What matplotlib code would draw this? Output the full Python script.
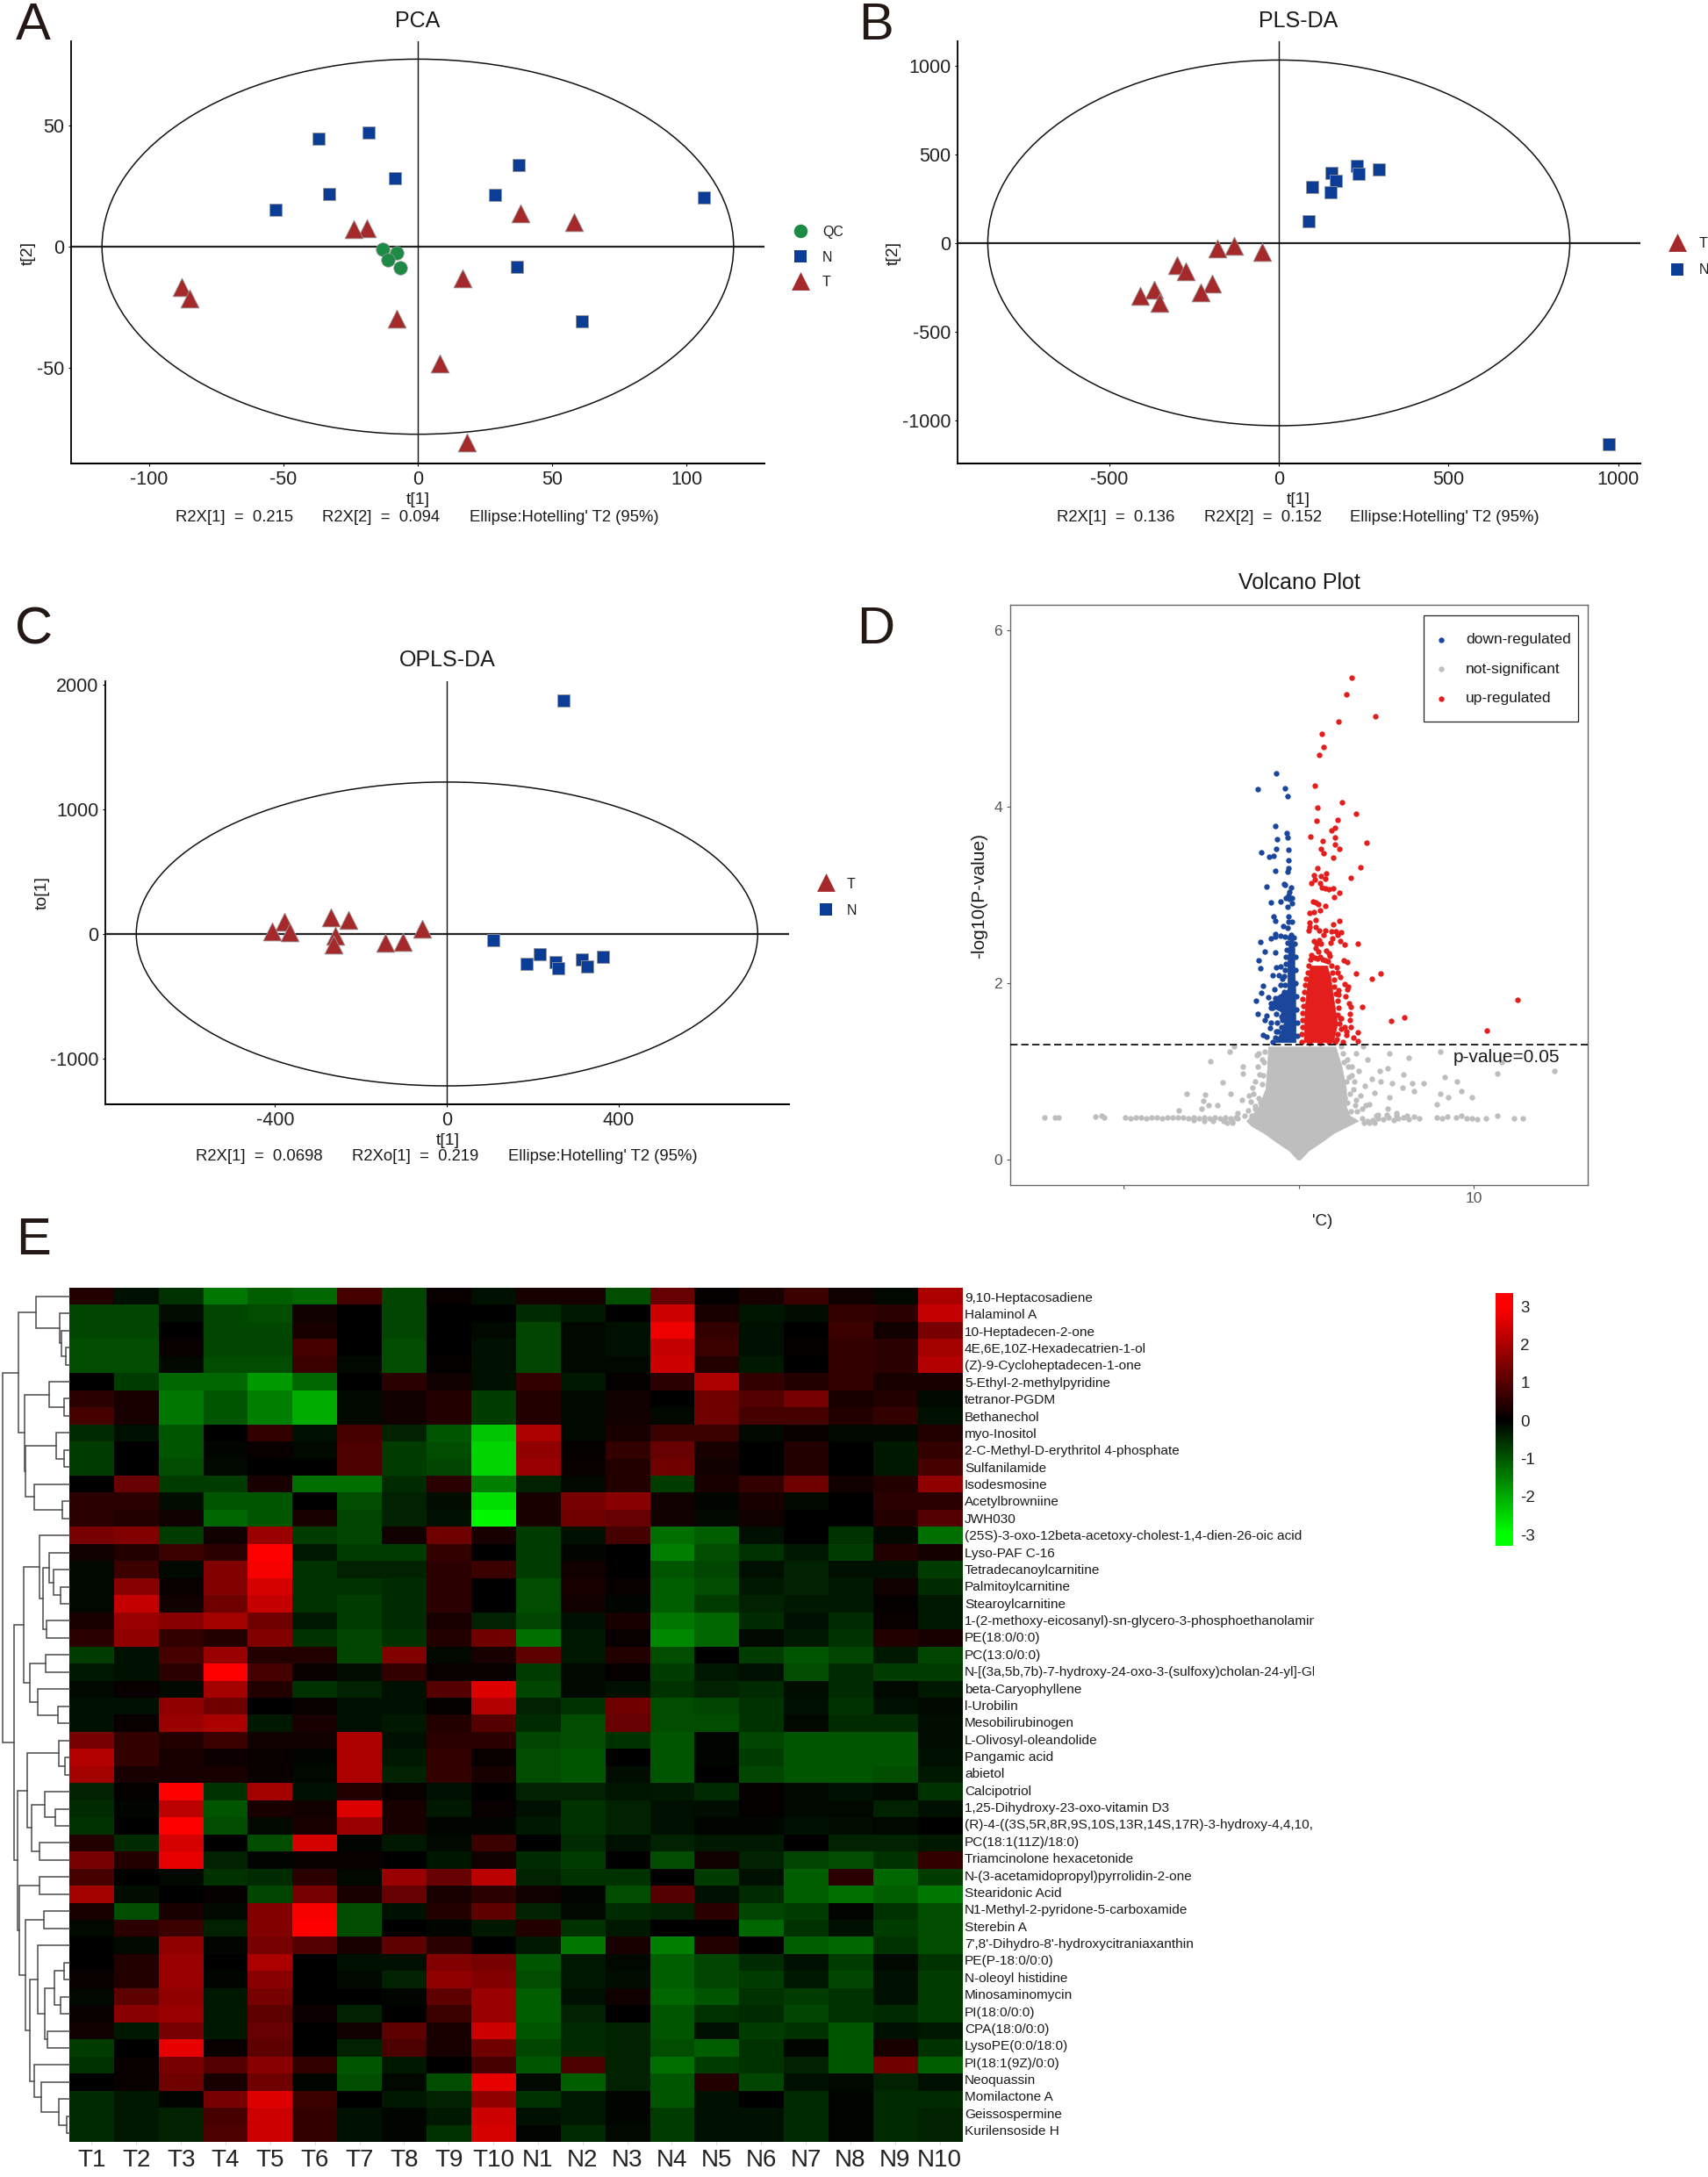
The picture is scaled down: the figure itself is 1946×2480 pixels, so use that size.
import numpy as np
import matplotlib
matplotlib.use("Agg")
import matplotlib.pyplot as plt
from matplotlib.colors import LinearSegmentedColormap, Normalize
from matplotlib.patches import Ellipse, Rectangle
from matplotlib.transforms import Bbox

plt.rcParams["axes.unicode_minus"] = False

W, H = 1946, 2480
NARROW = ["Liberation Sans Narrow", "Liberation Sans"]
SANS = ["Liberation Sans"]

# PCA
pca_n_x = [-36.8, -18.4, 37.6, -8.6, -33, 28.8, 106.6, -52.8, 37, 61]
pca_n_y = [44.7, 47.3, 33.8, 28.3, 21.7, 21.3, 20.3, 15.3, -8.5, -31]
pca_t_x = [38.2, 58.2, -18.8, -23.8, 16.6, -87.8, -84.8, -7.8, 8.2, 18.2]
pca_t_y = [13.7, 10, 7.8, 7.2, -13, -16.7, -21.4, -29.6, -48.3, -81]
pca_qc_x = [-13.2, -8, -11.2, -6.6]
pca_qc_y = [-1, -2.7, -5.3, -8.8]

# PLS-DA
pls_n_x = [229, 295, 156, 234, 169, 97, 153, 89, 973]
pls_n_y = [436, 414, 396, 390, 352, 316, 285, 123, -1137]
pls_t_x = [-132, -180, -49, -299, -274, -196, -231, -366, -408, -352]
pls_t_y = [-14, -33, -51, -123, -160, -227, -277, -266, -299, -338]

# OPLS-DA
opls_n_x = [271, 108, 216, 186, 253, 258, 313, 326, 364]
opls_n_y = [1875, -53, -166, -240, -223, -276, -208, -261, -184]
opls_t_x = [-379, -406, -366, -271, -229, -57, -259, -263, -143, -103]
opls_t_y = [95, 20, 12, 136, 110, 42, -15, -83, -74, -62]

# volcano, single points
up_x = [3.04, 2.74, 4.37, 2.28, 1.30, 1.41, 1.18, 0.92, 2.46, 1.07, 3.27, 2.23, 1.02, 2.05, 1.87, 0.66, 2.07, 1.38,
        3.89, 2.07, 2.33, 1.25, 1.41, 1.97, 3.53, 2.97, 1.07, 0.84, 1.27, 1.55, 1.52, 0.92, 1.2, 0.69, 1.3, 1.52,
        1.72, 1.97, 2.31, 2.0, 0.82, 0.97, 1.12, 1.5, 1.24, 0.62, 0.85, 0.94, 2.31, 1.97, 0.62, 0.6, 0.95, 0.55,
        1.19, 1.52, 1.85, 2.14, 2.42, 1.44, 2.22, 1.94, 1.82, 2.36, 2.61, 3.36, 0.85, 1.19, 1.02, 1.27, 0.94, 1.14,
        1.57, 1.72, 1.77, 0.69, 2.56, 2.79, 2.19, 4.65, 4.19, 3.29, 2.24, 2.36, 1.65, 2.62, 2.82, 2.77, 2.29, 2.29,
        2.69, 2.87, 2.96, 3.64, 2.94, 2.91, 2.36, 2.64, 2.96, 2.74, 3.38, 2.74, 3.12, 3.39, 6.01, 5.29, 12.48, 10.72,
        0.15, 0.18, 0.2, 0.22, 0.2, 0.24, 0.22, 0.3, 0.35, 0.42, 0.5, 0.55, 0.68, 0.75, 0.9, 1.05, 1.2, 1.35, 1.5,
        1.65, 1.85, 1.9, 2.0, 2.03, 2.1, 2.2, 2.25, 2.22, 2.42, 2.3, 2.4, 2.2, 2.15, 2.5, 2.05, 1.7, 1.2, 0.6]
up_y = [5.46, 5.27, 5.03, 4.97, 4.83, 4.68, 4.59, 4.24, 4.05, 3.99, 3.92, 3.85, 3.84, 3.76, 3.73, 3.66, 3.65, 3.61,
        3.59, 3.57, 3.52, 3.52, 3.47, 3.42, 3.31, 3.19, 3.30, 3.22, 3.21, 3.24, 3.18, 3.17, 3.13, 3.13, 3.08, 3.07,
        3.06, 3.07, 3.02, 2.98, 2.93, 2.92, 2.9, 2.88, 2.83, 2.8, 2.81, 2.72, 2.71, 2.67, 2.69, 2.64, 2.64, 2.6,
        2.6, 2.6, 2.59, 2.59, 2.58, 2.55, 2.55, 2.51, 2.46, 2.48, 2.44, 2.45, 2.48, 2.49, 2.45, 2.45, 2.4, 2.36,
        2.37, 2.34, 2.31, 2.32, 2.26, 2.24, 2.18, 2.11, 2.05, 2.11, 2.12, 2.07, 2.08, 1.99, 1.96, 1.93, 1.92, 1.87,
        1.85, 1.77, 1.73, 1.73, 1.65, 1.58, 1.6, 1.5, 1.5, 1.45, 1.44, 1.41, 1.38, 1.34, 1.61, 1.57, 1.81, 1.46,
        1.33, 1.42, 1.5, 1.58, 1.66, 1.74, 1.82, 1.9, 1.98, 2.05, 2.12, 2.2, 2.27, 2.3, 2.29, 2.28, 2.3, 2.27, 2.26,
        2.25, 2.2, 2.12, 2.04, 1.96, 1.88, 1.8, 1.72, 1.64, 1.6, 1.54, 1.48, 1.42, 1.36, 1.33, 1.33, 1.33, 1.32, 1.32]
down_x = [-1.3, -2.35, -0.77, -0.64, -1.36, -0.69, -0.64, -1.25, -1.28, -0.61, -2.15, -1.43, -1.71, -0.59, -0.59,
          -0.66, -1.33, -1.85, -0.85, -0.79, -0.45, -0.52, -0.57, -0.74, -0.4, -1.02, -1.57, -0.52, -0.37, -0.63,
          -1.45, -1.35, -0.57, -0.37, -0.57, -0.87, -0.65, -1.35, -1.57, -1.32, -1.02, -0.79, -2.19, -1.92, -1.34,
          -2.29, -2.19, -1.27, -1.02, -1.49, -1.12, -0.95, -2.02, -1.37, -1.05, -2.14, -2.44, -1.74, -2.32, -1.82,
          -1.95, -1.6, -1.24, -1.65, -2.04, -1.82, -1.29, -1.57, -1.57, -1.15, -1.32, -1.29, -0.99,
          -0.1, -0.1, -0.13, -0.15, -0.18, -0.2, -0.2, -0.25, -0.3,
          -1.5, -1.35, -1.2, -1.0, -0.95, -0.9, -1.5, -1.4, -1.2, -0.85, -0.8, -0.85, -0.78, -0.75, -0.72, -0.7,
          -0.62, -0.55, -0.45]
down_y = [4.38, 4.2, 4.21, 4.12, 3.78, 3.7, 3.65, 3.63, 3.52, 3.51, 3.48, 3.44, 3.43, 3.39, 3.3,
          3.26, 3.27, 3.09, 3.12, 3.11, 3.08, 3.03, 3.0, 2.97, 2.97, 2.93, 2.92, 2.96, 2.91, 2.87,
          2.76, 2.71, 2.76, 2.7, 2.7, 2.65, 2.63, 2.56, 2.51, 2.53, 2.54, 2.53, 2.47, 2.36, 2.35,
          2.26, 2.17, 2.18, 2.19, 2.09, 2.09, 2.05, 1.97, 1.93, 1.98, 1.89, 1.8, 1.84, 1.65, 1.63,
          1.58, 1.55, 1.55, 1.49, 1.41, 1.39, 1.45, 1.77, 1.72, 1.8, 1.83, 1.65, 1.62,
          1.4, 1.55, 1.7, 1.85, 2.0, 2.15, 2.3, 2.45, 2.52,
          1.33, 1.38, 1.45, 1.5, 1.58, 1.66, 1.72, 1.78, 1.82, 1.9, 1.98, 2.08, 2.15, 2.22, 2.3, 2.38,
          2.46, 2.52, 2.55]
ns_x = [-5.06, -3.94, -3.68, -3.2, -3.2, -4.37, -3.89, -6.42, -5.37, -5.47, -6.83, -5.17, -5.55, -4.65, -3.5, -3.22,
        -2.84, -2.66, -2.48, -2.35, -2.3, -2.4, -2.74, -2.48, -2.23, -2.1,
        5.19, 6.29, 8.06, 11.33, 14.6, 11.6, 8.34, 9.03, 9.28, 9.87, 8.52, 8.08, 7.88, 7.11, 6.47, 6.6, 5.96, 5.91,
        5.06, 4.6, 4.68, 4.17, 5.32, 5.19, 5.06, 4.3, 3.91, 3.27, 3.66, 3.02, 3.4, 3.79, 3.15, 3.53, 2.76, 2.89,
        2.63, 4.04, 4.5, 5.58,
        -14.5, -13.9, -13.7, -11.6, -11.25, -11.1, -9.9, -9.6, -9.3, -9.0, -8.7, -8.4, -8.1, -7.8, -7.5, -7.2,
        -6.9, -6.6, -6.3, -6.0, -5.7, -5.4, -5.1, -4.8, -4.5, -4.2, -3.9, -3.6, -6.0, -5.4, -4.9, -4.3, -3.8,
        3.6, 3.9, 4.2, 4.5, 4.8, 5.1, 5.4, 5.7, 6.0, 6.3, 6.6, 6.9, 7.9, 8.2, 8.5, 9.0, 9.3, 9.6, 9.9, 10.2, 10.7,
        11.35, 12.28, 12.8, 4.4, 5.0, 5.6, 6.2,
        -2.6, -2.3, -2.5, -2.1, -2.2, -2.05, -2.0, -1.95, -2.9, -3.1, -2.7, -3.5, -3.8, -4.1,
        3.2, 2.9, 3.0, 2.7, 2.8, 2.5, 2.6, 2.4, 3.3, 3.6, 3.8, 3.1, 2.75, 2.55, 2.95, 3.25, 3.7, 4.0, 4.3]
ns_y = [1.11, 1.22, 1.28, 1.05, 0.97, 0.87, 0.75, 0.75, 0.74, 0.67, 0.56, 0.62, 0.58, 0.62, 0.53, 0.68,
        0.73, 0.81, 0.88, 1.05, 1.2, 1.18, 0.66, 0.61, 0.96, 1.13,
        1.2, 1.15, 1.22, 0.97, 1.0, 1.1, 0.93, 0.88, 0.78, 0.71, 0.71, 0.75, 0.63, 0.86, 0.86, 0.78, 0.96, 0.81,
        1.03, 1.0, 0.88, 0.91, 0.86, 0.71, 0.58, 0.76, 1.13, 1.2, 1.28, 1.05, 1.0, 0.83, 0.88, 0.73, 1.13, 0.93,
        0.71, 0.63, 0.51, 0.53,
        0.48, 0.48, 0.48, 0.49, 0.5, 0.48, 0.48, 0.47, 0.48, 0.48, 0.47, 0.48, 0.48, 0.47, 0.48, 0.48,
        0.48, 0.48, 0.47, 0.48, 0.47, 0.48, 0.47, 0.48, 0.47, 0.48, 0.47, 0.48, 0.45, 0.44, 0.44, 0.44, 0.43,
        0.47, 0.44, 0.45, 0.47, 0.46, 0.48, 0.45, 0.47, 0.48, 0.46, 0.49, 0.47, 0.48, 0.47, 0.49, 0.48, 0.5, 0.47, 0.47, 0.46, 0.47,
        0.5, 0.47, 0.47, 0.5, 0.51, 0.5, 0.5,
        0.75, 0.7, 0.58, 0.85, 0.65, 0.95, 1.1, 1.22, 0.56, 0.5, 0.5, 0.47, 0.42, 0.42,
        0.62, 0.75, 0.95, 0.88, 1.05, 1.2, 0.7, 1.28, 0.55, 0.58, 0.62, 0.8, 0.65, 1.1, 0.55, 0.68, 0.42, 0.42, 0.42]

# outline of the parts of the volcano where the dots merge together
ns_core_y = [0.0, 0.1, 0.2, 0.3, 0.38, 0.44, 0.5, 0.6, 0.8, 1.05, 1.28]
ns_core_left = [-0.08, -0.55, -1.3, -2.0, -2.7, -3.0, -2.7, -2.3, -1.9, -1.8, -1.75]
ns_core_right = [0.08, 0.55, 1.3, 2.0, 2.8, 3.4, 2.9, 2.7, 2.7, 2.45, 2.1]
up_core_y = [1.33, 1.54, 1.73, 1.93, 2.07, 2.2]
up_core_left = [0.28, 0.32, 0.35, 0.45, 0.55, 0.65]
up_core_right = [1.95, 2.2, 2.05, 1.9, 1.8, 1.6]
down_core_y = [1.33, 1.42, 1.55, 1.66, 1.72, 1.84, 1.93, 2.2, 2.4, 2.5]
down_core_left = [-1.4, -1.1, -0.85, -0.85, -1.45, -1.35, -0.65, -0.65, -0.6, -0.5]
down_core_right = [-0.18, -0.18, -0.18, -0.2, -0.2, -0.2, -0.2, -0.25, -0.25, -0.33]

# heatmap
samples = ["T1", "T2", "T3", "T4", "T5", "T6", "T7", "T8", "T9", "T10",
           "N1", "N2", "N3", "N4", "N5", "N6", "N7", "N8", "N9", "N10"]
metabolites = ["9,10-Heptacosadiene", "Halaminol A", "10-Heptadecen-2-one", "4E,6E,10Z-Hexadecatrien-1-ol",
               "(Z)-9-Cycloheptadecen-1-one", "5-Ethyl-2-methylpyridine", "tetranor-PGDM", "Bethanechol",
               "myo-Inositol", "2-C-Methyl-D-erythritol 4-phosphate", "Sulfanilamide", "Isodesmosine",
               "Acetylbrowniine", "JWH030", "(25S)-3-oxo-12beta-acetoxy-cholest-1,4-dien-26-oic acid", "Lyso-PAF C-16",
               "Tetradecanoylcarnitine", "Palmitoylcarnitine", "Stearoylcarnitine",
               "1-(2-methoxy-eicosanyl)-sn-glycero-3-phosphoethanolamine", "PE(18:0/0:0)", "PC(13:0/0:0)",
               "N-[(3a,5b,7b)-7-hydroxy-24-oxo-3-(sulfoxy)cholan-24-yl]-Glycine", "beta-Caryophyllene", "l-Urobilin",
               "Mesobilirubinogen", "L-Olivosyl-oleandolide", "Pangamic acid", "abietol", "Calcipotriol",
               "1,25-Dihydroxy-23-oxo-vitamin D3", "(R)-4-((3S,5R,8R,9S,10S,13R,14S,17R)-3-hydroxy-4,4,10,13,14-",
               "PC(18:1(11Z)/18:0)", "Triamcinolone hexacetonide", "N-(3-acetamidopropyl)pyrrolidin-2-one",
               "Stearidonic Acid", "N1-Methyl-2-pyridone-5-carboxamide", "Sterebin A",
               "7',8'-Dihydro-8'-hydroxycitraniaxanthin", "PE(P-18:0/0:0)", "N-oleoyl histidine", "Minosaminomycin",
               "PI(18:0/0:0)", "CPA(18:0/0:0)", "LysoPE(0:0/18:0)", "PI(18:1(9Z)/0:0)", "Neoquassin", "Momilactone A",
               "Geissospermine", "Kurilensoside H"]
heat_rows = [
    [.4, -.2, -.6, -1.4, -1.1, -1.2, .8, -.8, .1, -.2, .3, .3, -.9, 1.2, .05, .3, .7, .2, -.1, 2.0],
    [-.8, -.8, -.15, -.8, -.9, .2, 0, -.8, 0, 0, -.5, -.3, 0, 2.4, .3, -.25, -.15, .6, .5, 2.3],
    [-.8, -.8, 0, -.8, -.8, .3, 0, -.8, 0, -.1, -.8, -.1, -.2, 2.8, .6, -.2, 0, .7, .2, 1.4],
    [-.9, -.9, .1, -.8, -.8, .8, 0, -.9, 0, -.2, -.8, -.1, -.2, 2.3, .7, -.2, .05, .6, .5, 1.9],
    [-.9, -.9, -.1, -.9, -.9, .7, -.1, -.9, .05, -.2, -.8, -.1, -.1, 2.4, .4, -.3, 0, .6, .5, 2.1],
    [0, -.7, -1.2, -1.2, -1.8, -1.2, 0, .5, .2, -.2, .6, -.3, .05, .5, 2.0, .6, .4, .6, .3, .3],
    [.5, .3, -1.4, -1.0, -1.5, -2.0, -.1, .2, .4, -.7, .4, -.1, .2, 0, 1.3, 1.0, 1.4, .3, .4, -.1],
    [.8, .3, -1.4, -1.0, -1.5, -2.0, -.1, .2, .4, -.7, .4, -.1, .2, -.1, 1.3, .8, .8, .4, .6, -.2],
    [-.5, -.2, -1.0, 0, .6, -.2, .8, -.4, -1.0, -2.3, 2.0, -.1, .3, .7, .7, -.1, .1, -.1, -.1, .4],
    [-.7, 0, -1.0, -.05, .1, -.1, .9, -.7, -.9, -2.5, 1.7, .05, .6, 1.2, .3, 0, .4, 0, -.3, .6],
    [-.7, 0, -.9, -.1, 0, 0, .9, -.7, -.8, -2.5, 1.8, .1, .4, 1.3, .2, 0, .4, 0, -.3, .8],
    [0, 1.2, -.7, -.7, .3, -1.3, -1.3, -.5, .5, -1.5, -.4, -.1, .4, -.7, .3, .6, 1.3, .2, .4, 1.7],
    [.5, .5, -.15, -1.0, -1.0, 0, -.9, -.4, -.15, -2.6, .3, 1.4, 1.6, .2, -.05, .3, -.1, 0, .5, .5],
    [.5, .4, .2, -1.2, -1.0, .3, -.8, -.4, -.2, -2.9, .3, 1.3, 1.2, .2, -.1, .2, 0, 0, .4, 1.0],
    [1.4, 1.5, -.7, .2, 1.8, -.7, -.8, .2, 1.3, .3, -.7, -.2, .8, -1.3, -1.1, -.2, 0, -.6, -.1, -1.3],
    [.2, .4, .7, .5, 3, -.3, -.7, -.7, .6, 0, -.7, -.05, 0, -1.5, -.9, -.6, -.3, -.7, .4, .25],
    [-.1, .7, -.1, 1.5, 2.9, -.6, -.4, -.4, .5, .7, -.7, .2, 0, -1.0, -.8, -.2, -.4, -.2, -.2, -.7],
    [-.1, 1.6, .1, 1.5, 2.5, -.6, -.6, -.5, .5, 0, -.9, .3, .1, -1.1, -.9, -.3, -.4, -.3, .2, -.5],
    [-.1, 2.3, .2, 1.3, 2.3, -.6, -.7, -.5, .5, 0, -.9, .2, -.05, -1.1, -.7, -.4, -.3, -.3, .05, -.3],
    [.3, 1.8, 1.6, 1.9, 1.3, -.3, -.7, -.5, .3, -.4, -.8, -.2, .3, -1.4, -1.2, -.5, -.2, -.5, .1, -.3],
    [.5, 1.7, .6, .4, 1.5, -.6, -.8, -.6, .4, 1.3, -1.3, -.3, .1, -1.6, -1.2, -.1, -.3, -.6, .4, .3],
    [-.7, -.2, .8, 1.8, .4, .4, -.8, 1.5, -.1, .3, 1.1, -.3, .4, -.9, 0, -.7, -1.0, -.8, -.3, -.8],
    [-.3, -.2, .5, 3, .8, .1, -.15, .6, .1, .1, -.7, -.1, .05, -.7, -.3, -.2, -.9, -.5, -.7, -.7],
    [-.1, .1, -.1, 1.9, .4, -.6, -.4, -.2, 1.0, 2.6, -.8, -.1, -.2, -.6, -.4, -.5, -.15, -.5, -.1, -.3],
    [-.2, -.2, 1.7, 1.3, 0, .1, -.2, -.2, .05, 2.1, -.4, -.6, 1.3, -.9, -.8, -.6, -.2, -.6, -.2, -.1],
    [-.2, .1, 1.8, 2.0, -.3, .3, -.2, -.3, .4, 1.0, -.5, -.9, 1.2, -.9, -.9, -.6, -.1, -.5, -.5, -.15],
    [1.4, .6, .4, .7, .2, .2, 2.0, -.2, .5, .5, -.8, -.9, -.6, -1.0, -.05, -.8, -1.0, -1.0, -1.0, -.15],
    [2.1, .6, .3, .15, .1, -.05, 2.0, -.3, .6, .1, -.9, -1.0, 0, -1.0, -.05, -.7, -1.0, -1.0, -1.0, -.2],
    [1.9, .3, .3, .3, .1, -.1, 2.0, -.4, .6, .3, -.9, -1.0, -.15, -1.0, 0, -.8, -1.0, -1.0, -.9, -.3],
    [-.4, .05, 3, -.6, 1.9, -.2, .4, .1, -.2, 0, -.4, -.4, -.25, -.3, -.5, .05, -.1, -.2, -.1, -.6],
    [-.5, -.05, 2.2, -1.0, .3, .2, 2.6, .3, -.3, .1, -.2, -.6, -.4, -.2, -.15, .05, -.1, -.1, -.4, -.2],
    [-.6, 0, 3, -.9, -.1, .3, 1.8, .3, -.05, -.05, -.3, -.6, -.4, -.2, -.05, -.05, -.2, -.15, -.1, 0],
    [.4, -.5, 2.5, 0, -.9, 2.5, -.05, -.3, -.1, .7, 0, -.5, -.2, -.4, -.3, -.3, 0, -.4, -.4, -.3],
    [1.4, .4, 2.7, -.4, -.05, .1, .1, 0, -.25, .2, -.5, -.7, 0, -.9, .2, -.4, -.8, -.9, -.6, .6],
    [.8, 0, -.1, -.6, -.5, .5, -.1, 1.8, 1.2, 2.2, -.4, -.6, -.6, 0, -.7, -.2, -1.1, .5, -1.2, -.7],
    [1.9, -.15, 0, .05, -.8, 1.4, .3, 1.2, .3, .5, .2, -.05, -.9, 1.0, -.2, -.5, -1.1, -1.3, -1.1, -1.4],
    [.3, -.9, .3, -.1, 1.5, 2.9, -.9, -.2, .4, 1.1, -.4, -.1, -.5, -.4, .5, -.8, -.7, -.05, -.6, -.9],
    [-.1, .5, .7, -.4, 1.5, 3, -.9, 0, -.05, -.3, .4, -.6, -.3, 0, 0, -1.2, -.6, -.2, -.7, -.9],
    [0, -.1, 1.7, -.05, 1.4, 1.0, .3, 1.1, .5, 0, -.3, -1.4, .3, -1.5, .4, 0, -1.1, -1.2, -.6, -.9],
    [0, .4, 1.8, 0, 2.0, 0, -.2, -.2, 1.5, 1.4, -1.0, -.3, -.1, -1.1, -.8, -.5, -.2, -.7, -.1, -.6],
    [.1, .4, 1.8, -.05, 1.6, 0, -.1, -.4, 1.7, 1.5, -.9, -.3, -.15, -1.1, -.8, -.7, -.3, -.8, -.2, -.7],
    [-.1, 1.1, 1.7, -.3, 1.4, 0, 0, -.05, 1.1, 1.8, -1.1, -.2, .2, -1.2, -1.0, -.6, -.7, -.6, -.2, -.7],
    [.1, 1.6, 1.8, -.3, 1.1, .15, -.4, 0, .7, 1.8, -1.1, -.4, 0, -1.0, -.6, -.5, -.8, -.6, -.5, -.7],
    [.2, -.3, 1.4, -.3, 1.2, 0, .2, 1.1, .3, 2.4, -1.0, -.5, -.4, -1.0, -.2, -.7, -.6, -1.0, -.2, -.3],
    [-.7, 0, 2.7, .1, 1.1, 0, -.4, .9, .3, 1.3, -.8, -.5, -.4, -.9, -1.1, -.6, -.05, -1.0, .3, -.6],
    [-.6, .1, 1.4, 1.0, 1.6, .6, -1.0, -.3, 0, .8, -1.0, .9, -.4, -1.3, -.7, -.6, -.4, -1.0, 1.3, -1.1],
    [0, .1, 1.3, .3, 1.3, -.05, -.9, -.1, -.9, 2.7, -.1, -1.1, -.4, -1.0, .4, -.8, -.2, -.1, -.4, -.2],
    [-.5, -.3, -.05, 1.4, 2.6, .7, 0, -.3, -.4, 1.7, -.6, -.3, -.05, -1.0, -.2, 0, -.5, -.05, -.5, -.5],
    [-.5, -.3, -.4, .8, 2.4, .6, -.2, -.05, -.3, 2.4, -.2, -.3, -.05, -.7, -.2, -.2, -.5, -.05, -.5, -.4],
    [-.5, -.3, -.4, .9, 2.4, .6, -.2, -.05, -.6, 2.5, -.05, -.5, -.1, -.7, -.2, -.2, -.5, -.05, -.5, -.4],
]

# row dendrogram: (height, child, child), a plain int is a row index
top_rows = (118, 0, (37, 1, (30, 2, (15, 3, 4))))
mid_rows = (155, (72, 5, (20, 6, 7)), (154, (48, 8, (20, 9, 10)), (122, 11, (28, 12, 13))))
carn_rows = (105, 14, (93, (73, 15, (58, 16, (32, 17, 18))), (80, 19, 20)))
pc_rows = (138, (85, 21, 22), (110, 23, (43, 24, 25)))
lipo_rows = (146, (38, 26, (18, 27, 28)), (132, (88, 29, (50, 30, 31)), (105, 32, 33)))
low_rows = (175, (105, 34, 35), (153, (90, 36, 37), (138,
            (112, 38, (88, (55, (20, 39, 40), (32, 41, 42)), (78, 43, 44))),
            (122, 45, (100, 46, (40, 47, (12, 48, 49)))))))
row_tree = (230, (176, top_rows, mid_rows), (193, (160, carn_rows, pc_rows), (180, lipo_rows, low_rows)))


def px_axes(fig, left, top, right, bottom):
    return fig.add_axes([left / W, 1 - bottom / H, (right - left) / W, (bottom - top) / H])


def score_plot(fig, rect, xlim, ylim, xticks, yticks, ell_w, ell_h, n_xy, t_xy, qc_xy=None):
    ax = px_axes(fig, *rect)
    ax.set_xlim(*xlim)
    ax.set_ylim(*ylim)
    ax.spines["top"].set_visible(False)
    ax.spines["right"].set_visible(False)
    ax.spines["left"].set_linewidth(1.3)
    ax.spines["bottom"].set_linewidth(1.5)
    ax.set_xticks(xticks)
    ax.set_yticks(yticks)
    ax.tick_params(length=2.5, width=0.8, pad=3, labelsize=15.5, labelcolor="#222222")
    for lab in ax.get_xticklabels() + ax.get_yticklabels():
        lab.set_family(SANS)
    ax.axhline(0, color="#222222", lw=1.6, zorder=1)
    ax.axvline(0, color="#111111", lw=1.0, zorder=1)
    ax.add_patch(Ellipse((0, 0), 2 * ell_w, 2 * ell_h, fill=False, ec="#111111", lw=1.1, zorder=2))
    if qc_xy:
        ax.scatter(*qc_xy, marker="o", s=125, c=GREEN, edgecolors="#999999", linewidths=0.5, zorder=3)
    ax.scatter(*n_xy, marker="s", s=110, c=BLUE, edgecolors="#999999", linewidths=0.6, zorder=3)
    ax.scatter(*t_xy, marker="^", s=225, c=BROWN, edgecolors="#999999", linewidths=0.6, zorder=3)
    return ax


def draw_tree(ax, node):
    # returns (height, y centre) of the node
    if isinstance(node, int):
        return 0, node + 0.5
    h, a, b = node
    ha, ya = draw_tree(ax, a)
    hb, yb = draw_tree(ax, b)
    ax.plot([ha, h, h, hb], [ya, ya, yb, yb], color="#4a4a4a", lw=1.1, solid_joinstyle="miter")
    return h, (ya + yb) / 2


GREEN = "#1d8a45"
BLUE = "#0b3c96"
BROWN = "#a5282a"
VOL_BLUE = "#1a479c"
VOL_RED = "#e31e1c"
VOL_GRAY = "#bebebe"

fig = plt.figure(figsize=(W / 100, H / 100), dpi=100, facecolor="white")

score_plot(fig, (81, 47, 871, 528), (-129, 129), (-89.7, 85), [-100, -50, 0, 50, 100], [-50, 0, 50],
           117.5, 77.6, (pca_n_x, pca_n_y), (pca_t_x, pca_t_y), (pca_qc_x, pca_qc_y))
score_plot(fig, (1091, 47, 1869, 528), (-946, 1065), (-1244, 1137), [-500, 0, 500, 1000],
           [-1000, -500, 0, 500, 1000], 857, 1031, (pls_n_x, pls_n_y), (pls_t_x, pls_t_y))
score_plot(fig, (120, 776, 899, 1258), (-795, 796), (-1368, 2030), [-400, 0, 400], [-1000, 0, 1000, 2000],
           723, 1220, (opls_n_x, opls_n_y), (opls_t_x, opls_t_y))

# volcano
ax_v = px_axes(fig, 1150.5, 689, 1809, 1350)
ax_v.set_xlim(-16.5, 16.5)
ax_v.set_ylim(-0.29, 6.29)
ax_v.fill_betweenx(ns_core_y, ns_core_left, ns_core_right, color=VOL_GRAY, lw=0.5, zorder=1)
ax_v.scatter(ns_x, ns_y, s=21, c=VOL_GRAY, linewidths=0, zorder=1)
ax_v.fill_betweenx(down_core_y, down_core_left, down_core_right, color=VOL_BLUE, lw=0.5, zorder=2)
ax_v.scatter(down_x, down_y, s=21, c=VOL_BLUE, linewidths=0, zorder=2)
ax_v.fill_betweenx(up_core_y, up_core_left, up_core_right, color=VOL_RED, lw=0.5, zorder=2)
ax_v.scatter(up_x, up_y, s=21, c=VOL_RED, linewidths=0, zorder=2)
ax_v.axhline(1.301, color="black", lw=1.2, dashes=(5, 2.5), zorder=3)
ax_v.set_xticks([-10, 0, 10])
ax_v.set_xticklabels(["", "", "10"], family=SANS, fontsize=12.5, color="#555555")
ax_v.set_yticks([0, 2, 4, 6])
ax_v.set_yticklabels(["0", "2", "4", "6"], family=SANS, fontsize=12.5, color="#555555")
ax_v.tick_params(length=3, width=0.8, color="#555555", pad=3)
for sp in ax_v.spines.values():
    sp.set_color("#666666")
    sp.set_linewidth(1.0)

# heatmap
ax_h = px_axes(fig, 79, 1467, 1096, 2440)
cmap = LinearSegmentedColormap.from_list("gbr", ["#00ff00", "#000000", "#ff0000"])
norm = Normalize(-3, 3, clip=True)
ax_h.imshow(np.array(heat_rows), cmap=cmap, norm=norm, aspect="auto", interpolation="nearest")
ax_h.set_xticks(range(len(samples)))
ax_h.set_xticklabels(samples, family=SANS, fontsize=20, color="#222222")
ax_h.tick_params(axis="x", length=2, width=0.6, color="#cccccc", pad=4)
ax_h.set_yticks([])
for sp in ax_h.spines.values():
    sp.set_visible(False)

# dendrogram
ax_d = px_axes(fig, 0, 1467, 80, 2440)
ax_d.set_xlim(240, 0)
ax_d.set_ylim(len(metabolites), 0)
ax_d.axis("off")
draw_tree(ax_d, row_tree)

# colour key
ax_c = px_axes(fig, 1704, 1473, 1724, 1761)
ax_c.imshow(np.linspace(3.35, -3.3, 256)[:, None], cmap=cmap, norm=norm, aspect="auto", extent=(0, 1, -3.3, 3.35))
ax_c.set_xticks([])
ax_c.yaxis.tick_right()
ax_c.set_yticks([-3, -2, -1, 0, 1, 2, 3])
ax_c.set_yticklabels(["-3", "-2", "-1", "0", "1", "2", "3"], family=SANS, fontsize=13.5, color="#222222")
ax_c.tick_params(length=0, pad=6)
for sp in ax_c.spines.values():
    sp.set_visible(False)

# everything placed by pixel goes on one overlay
ov = fig.add_axes([0, 0, 1, 1], zorder=10)
ov.set_xlim(0, W)
ov.set_ylim(H, 0)
ov.axis("off")


def put(x, y, s, size, ha="left", fam=SANS, rot=0, color="#1a1a1a"):
    return ov.text(x, y, s, fontsize=size, ha=ha, va="center", family=fam, rotation=rot, color=color)


for letter, x, y in [("A", 38, 45), ("B", 998, 45), ("C", 39, 733), ("D", 998, 733), ("E", 38, 1429)]:
    ov.text(x, y, letter, fontsize=43, ha="center", va="baseline", family=SANS, color="#231815")

put(476, 24, "PCA", 18, ha="center")
put(1479, 24, "PLS-DA", 18, ha="center")
put(510, 752, "OPLS-DA", 18, ha="center")
put(1480, 664, "Volcano Plot", 18, ha="center")

put(476, 569, "t[1]", 14, ha="center")
put(1479, 569, "t[1]", 14, ha="center")
put(510, 1299, "t[1]", 14, ha="center")
put(32, 288, "t[2]", 14, ha="center", rot=90)
put(1018, 288, "t[2]", 14, ha="center", rot=90)
put(48, 1017, "to[1]", 14, ha="center", rot=90)

for y, items in [(589, [(200, "R2X[1]  =  0.215"), (367, "R2X[2]  =  0.094"), (535, "Ellipse:Hotelling' T2 (95%)")]),
                 (589, [(1204, "R2X[1]  =  0.136"), (1372, "R2X[2]  =  0.152"), (1538, "Ellipse:Hotelling' T2 (95%)")]),
                 (1318, [(223, "R2X[1]  =  0.0698"), (401, "R2Xo[1]  =  0.219"), (579, "Ellipse:Hotelling' T2 (95%)")])]:
    for x, s in items:
        put(x, y, s, 13.3)

# hand placed keys of the score plots
ov.scatter([912], [263], marker="o", s=125, c=GREEN, linewidths=0)
ov.scatter([912], [292], marker="s", s=100, c=BLUE, linewidths=0)
ov.scatter([912], [320], marker="^", s=225, c=BROWN, linewidths=0)
put(937, 265, "QC", 11.5)
put(937, 294, "N", 11.5)
put(937, 321, "T", 11.5)
ov.scatter([1911], [276], marker="^", s=225, c=BROWN, linewidths=0)
ov.scatter([1911], [307], marker="s", s=100, c=BLUE, linewidths=0)
put(1936, 278, "T", 11.5)
put(1936, 308, "N", 11.5)
ov.scatter([941], [1005], marker="^", s=225, c=BROWN, linewidths=0)
ov.scatter([941], [1036], marker="s", s=100, c=BLUE, linewidths=0)
put(965, 1007, "T", 11.5)
put(965, 1037, "N", 11.5)

# volcano key and labels
ov.add_patch(Rectangle((1622, 701), 176, 121, fill=True, fc="white", ec="#222222", lw=0.9, zorder=4))
for y, colour, s in [(728.5, VOL_BLUE, "down-regulated"), (762, VOL_GRAY, "not-significant"), (795.5, VOL_RED, "up-regulated")]:
    ov.scatter([1642], [y], s=21, c=colour, linewidths=0, zorder=5)
    put(1670, y, s, 12.5).set_zorder(5)
put(1656, 1204, "p-value=0.05", 15)
put(1116, 1020, "-log10(P-value)", 15, ha="center", rot=90)
put(1507, 1391, "'C)", 13.5, ha="center")
put(1281, 1358, "'", 7, ha="center", color="#aaaaaa")

# row labels, the long ones get cut off at the right
clip = Bbox.from_extents(1090, 0, 1497, H)
for i, name in enumerate(metabolites):
    t = put(1099, 1479 + 19.37 * i, name, 11.1)
    t.set_clip_on(True)
    t.set_clip_box(clip)

fig.savefig("out.png", dpi=100)
